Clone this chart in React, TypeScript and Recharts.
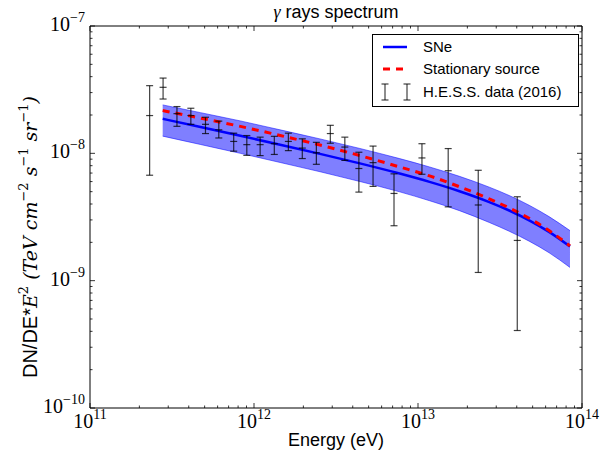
import React from 'react';
import { ComposedChart, XAxis, YAxis, Area, Line, Scatter, ErrorBar, Legend } from 'recharts';

// model curves (eV, TeV cm^-2 s^-1 sr^-1)
const fitEnergy = [2.775e11, 4.721e11, 8.257e11, 1.444e12, 2.527e12, 4.42e12, 7.732e12, 1.176e13, 1.789e13, 2.721e13, 3.599e13, 4.762e13, 6.296e13, 8.447e13];
const sneFlux = [1.866e-8, 1.608e-8, 1.372e-8, 1.168e-8, 9.906e-9, 8.342e-9, 6.94e-9, 5.968e-9, 5.041e-9, 4.143e-9, 3.556e-9, 2.979e-9, 2.416e-9, 1.854e-9];
const stationaryFlux = [2.167e-8, 1.89e-8, 1.628e-8, 1.381e-8, 1.161e-8, 9.6e-9, 7.816e-9, 6.647e-9, 5.465e-9, 4.387e-9, 3.726e-9, 3.088e-9, 2.473e-9, 1.877e-9];
const sneBandHigh = [2.401e-8, 2.087e-8, 1.797e-8, 1.529e-8, 1.298e-8, 1.092e-8, 9.09e-9, 7.816e-9, 6.598e-9, 5.424e-9, 4.664e-9, 3.91e-9, 3.184e-9, 2.472e-9];
const sneBandLow = [1.365e-8, 1.173e-8, 1.0e-8, 8.474e-9, 7.17e-9, 6.01e-9, 4.985e-9, 4.246e-9, 3.548e-9, 2.864e-9, 2.444e-9, 2.042e-9, 1.658e-9, 1.27e-9];

// H.E.S.S. 2016 points
const hessEnergy = [2.31e11, 2.79e11, 3.39e11, 4.12e11, 5.06e11, 6.1e11, 7.52e11, 9.04e11, 1.09e12, 1.33e12, 1.62e12, 1.97e12, 2.4e12, 2.92e12, 3.58e12, 4.36e12, 5.32e12, 7.14e12, 1.057e13, 1.528e13, 2.33e13, 4.03e13];
const hessFlux = [1.98e-8, 3.3e-8, 2.05e-8, 1.98e-8, 1.69e-8, 1.53e-8, 1.24e-8, 1.17e-8, 1.17e-8, 1.19e-8, 1.24e-8, 1.1e-8, 1.01e-8, 1.43e-8, 1.12e-8, 7.6e-9, 8.45e-9, 4.84e-9, 9.2e-9, 7.3e-9, 3.93e-9, 2.07e-9];
const hessHigh = [3.4e-8, 3.9e-8, 2.33e-8, 2.26e-8, 1.92e-8, 1.79e-8, 1.44e-8, 1.38e-8, 1.34e-8, 1.36e-8, 1.44e-8, 1.3e-8, 1.22e-8, 1.66e-8, 1.34e-8, 1.02e-8, 1.14e-8, 6.9e-9, 1.19e-8, 1.09e-8, 7.36e-9, 4.56e-9];
const hessLow = [6.73e-9, 2.67e-8, 1.63e-8, 1.69e-8, 1.43e-8, 1.32e-8, 1.04e-8, 9.64e-9, 9.6e-9, 9.8e-9, 1.05e-8, 9.1e-9, 8.2e-9, 1.2e-8, 8.8e-9, 4.96e-9, 5.5e-9, 2.7e-9, 6.85e-9, 3.8e-9, 1.16e-9, 4.06e-10];

const xDecades = [11, 12, 13, 14];
const yDecades = [-10, -9, -8, -7];

const serif = '"Liberation Serif", "DejaVu Serif", serif';
const mathSerif = '"DejaVu Serif", serif';
const sans = '"Liberation Sans", Arial, sans-serif';

const logTicks = (decades: number[]) => {
  const out: number[] = [];
  decades.forEach((d, i) => {
    out.push(Math.pow(10, d));
    if (i < decades.length - 1) for (let k = 2; k <= 9; k++) out.push(k * Math.pow(10, d));
  });
  return out;
};
const xTicks = logTicks(xDecades);
const yTicks = logTicks(yDecades);

const isMajor = (v: number) => Math.abs(Math.log10(v) - Math.round(Math.log10(v))) < 1e-6;
const expOf = (v: number) => Math.round(Math.log10(v));
const supText = (e: number) => (e < 0 ? `\u2212${-e}` : `${e}`);

const MAJ = 5;
const MIN = 2.5;

const LeftTick = ({ x, y, payload }: any) => {
  const major = isMajor(payload.value);
  return (
    <g>
      <line x1={x} x2={x + (major ? MAJ : MIN)} y1={y} y2={y} stroke="#000" strokeWidth={0.8} />
      {major && (
        <text x={x - 5} y={y + 5} textAnchor="end" fontFamily={serif} fontSize={20} fill="#000">
          10<tspan dy={-9} fontSize={14}>{supText(expOf(payload.value))}</tspan>
        </text>
      )}
    </g>
  );
};

const RightTick = ({ x, y, payload }: any) => {
  const major = isMajor(payload.value);
  return <line x1={x} x2={x - (major ? MAJ : MIN)} y1={y} y2={y} stroke="#000" strokeWidth={0.8} />;
};

const BottomTick = ({ x, y, payload }: any) => {
  const major = isMajor(payload.value);
  return (
    <g>
      <line x1={x} x2={x} y1={y} y2={y - (major ? MAJ : MIN)} stroke="#000" strokeWidth={0.8} />
      {major && (
        <text x={x} y={y + 20} textAnchor="middle" fontFamily={serif} fontSize={20} fill="#000">
          10<tspan dy={-9} fontSize={14}>{supText(expOf(payload.value))}</tspan>
        </text>
      )}
    </g>
  );
};

const TopTick = ({ x, y, payload }: any) => {
  const major = isMajor(payload.value);
  return <line x1={x} x2={x} y1={y} y2={y + (major ? MAJ : MIN)} stroke="#000" strokeWidth={0.8} />;
};

const HessMark = ({ cx, cy }: any) => (
  <line x1={cx - 3.5} x2={cx + 3.5} y1={cy} y2={cy} stroke="#000" strokeOpacity={0.75} strokeWidth={1.2} />
);

const LegendBox = () => (
  <svg width={207} height={73} style={{ display: 'block' }}>
    <rect x={0.5} y={0.5} width={206} height={72} fill="#fff" stroke="#000" strokeWidth={1} />
    <line x1={11} x2={35} y1={13} y2={13} stroke="#0000ff" strokeWidth={2.5} />
    <text x={51} y={18} fontFamily={sans} fontSize={15}>SNe</text>
    <line x1={11} x2={35} y1={35} y2={35} stroke="#ff0000" strokeWidth={3} strokeDasharray="7 6" />
    <text x={51} y={40} fontFamily={sans} fontSize={15}>Stationary source</text>
    {[13, 35].map((bx) => (
      <g key={bx} stroke="#000" strokeOpacity={0.75} strokeWidth={1.2}>
        <line x1={bx} x2={bx} y1={50} y2={66} />
        <line x1={bx - 3.5} x2={bx + 3.5} y1={50} y2={50} />
        <line x1={bx - 3.5} x2={bx + 3.5} y1={66} y2={66} />
      </g>
    ))}
    <text x={51} y={63} fontFamily={sans} fontSize={15}>H.E.S.S. data (2016)</text>
  </svg>
);

export default function App() {
  const curveData = fitEnergy.map((energy, i) => ({
    energy,
    sne: sneFlux[i],
    stationary: stationaryFlux[i],
    band: [sneBandLow[i], sneBandHigh[i]],
  }));
  const hessData = hessEnergy.map((energy, i) => ({
    energy,
    flux: hessFlux[i],
    err: [hessFlux[i] - hessLow[i], hessHigh[i] - hessFlux[i]],
  }));

  return (
    <div style={{ position: 'absolute', left: 0, top: 0, width: 607, height: 456, background: '#fff' }}>
      <ComposedChart width={607} height={456} margin={{ top: 25, right: 24, bottom: 47, left: 89 }}>
        <XAxis
          xAxisId="b"
          dataKey="energy"
          type="number"
          scale="log"
          domain={[1e11, 1e14]}
          allowDataOverflow
          ticks={xTicks}
          interval={0}
          tick={<BottomTick />}
          tickSize={0}
          tickMargin={0}
          tickLine={false}
          axisLine={{ stroke: '#000' }}
          height={1}
          label={{
            content: () => (
              <text x={336} y={446} textAnchor="middle" fontFamily={sans} fontSize={18} fill="#000">
                Energy (eV)
              </text>
            ),
          }}
        />
        <XAxis
          xAxisId="t"
          orientation="top"
          dataKey="energy"
          type="number"
          scale="log"
          domain={[1e11, 1e14]}
          allowDataOverflow
          ticks={xTicks}
          interval={0}
          tick={<TopTick />}
          tickSize={0}
          tickMargin={0}
          tickLine={false}
          axisLine={{ stroke: '#000' }}
          height={1}
        />
        <YAxis
          yAxisId="l"
          type="number"
          scale="log"
          domain={[1e-10, 1e-7]}
          allowDataOverflow
          ticks={yTicks}
          interval={0}
          tick={<LeftTick />}
          tickSize={0}
          tickMargin={0}
          tickLine={false}
          axisLine={{ stroke: '#000' }}
          width={1}
          label={{
            content: () => (
              <text transform="translate(37,237) rotate(-90)" textAnchor="middle" fontSize={19} fill="#000">
                <tspan fontFamily={sans} fontSize={20}>DN/DE*</tspan>
                <tspan fontFamily={mathSerif} fontStyle="italic">E</tspan>
                <tspan fontFamily={mathSerif} fontSize={13} dy={-9}>2</tspan>
                <tspan fontFamily={mathSerif} fontStyle="italic" dy={9}> (TeV cm</tspan>
                <tspan fontFamily={mathSerif} fontSize={13} dy={-9}>{'\u22122'}</tspan>
                <tspan fontFamily={mathSerif} fontStyle="italic" dy={9}> s</tspan>
                <tspan fontFamily={mathSerif} fontSize={13} dy={-9}>{'\u22121'}</tspan>
                <tspan fontFamily={mathSerif} fontStyle="italic" dy={9}> sr</tspan>
                <tspan fontFamily={mathSerif} fontSize={13} dy={-9}>{'\u22121'}</tspan>
                <tspan fontFamily={mathSerif} fontStyle="italic" dy={9}>)</tspan>
              </text>
            ),
          }}
        />
        <YAxis
          yAxisId="r"
          orientation="right"
          type="number"
          scale="log"
          domain={[1e-10, 1e-7]}
          allowDataOverflow
          ticks={yTicks}
          interval={0}
          tick={<RightTick />}
          tickSize={0}
          tickMargin={0}
          tickLine={false}
          axisLine={{ stroke: '#000' }}
          width={1}
        />
        <Area
          xAxisId="b"
          yAxisId="l"
          data={curveData}
          dataKey="band"
          type="monotone"
          fill="#0000ff"
          fillOpacity={0.5}
          stroke="#0000ff"
          strokeOpacity={0.5}
          strokeWidth={1}
          isAnimationActive={false}
          legendType="none"
        />
        <Line
          xAxisId="b"
          yAxisId="l"
          data={curveData}
          dataKey="sne"
          name="SNe"
          type="monotone"
          stroke="#0000ff"
          strokeWidth={2.5}
          dot={false}
          isAnimationActive={false}
        />
        <Line
          xAxisId="b"
          yAxisId="l"
          data={curveData}
          dataKey="stationary"
          name="Stationary source"
          type="monotone"
          stroke="#ff0000"
          strokeWidth={3}
          strokeDasharray="7 6"
          dot={false}
          isAnimationActive={false}
        />
        <Scatter
          xAxisId="b"
          yAxisId="l"
          data={hessData}
          dataKey="flux"
          name="H.E.S.S. data (2016)"
          shape={<HessMark />}
          isAnimationActive={false}
        >
          <ErrorBar dataKey="err" direction="y" width={3.5} stroke="#000" strokeOpacity={0.75} strokeWidth={1.2} />
        </Scatter>
        <Legend
          layout="vertical"
          align="center"
          verticalAlign="middle"
          width={207}
          height={73}
          wrapperStyle={{ left: 372, top: 34, width: 207, height: 73 }}
          content={() => <LegendBox />}
        />
        <text x={336} y={18} textAnchor="middle" fontSize={18} fill="#000">
          <tspan fontFamily={serif} fontStyle="italic">{'\u03b3'}</tspan>
          <tspan fontFamily={sans}> rays spectrum</tspan>
        </text>
      </ComposedChart>
    </div>
  );
}
